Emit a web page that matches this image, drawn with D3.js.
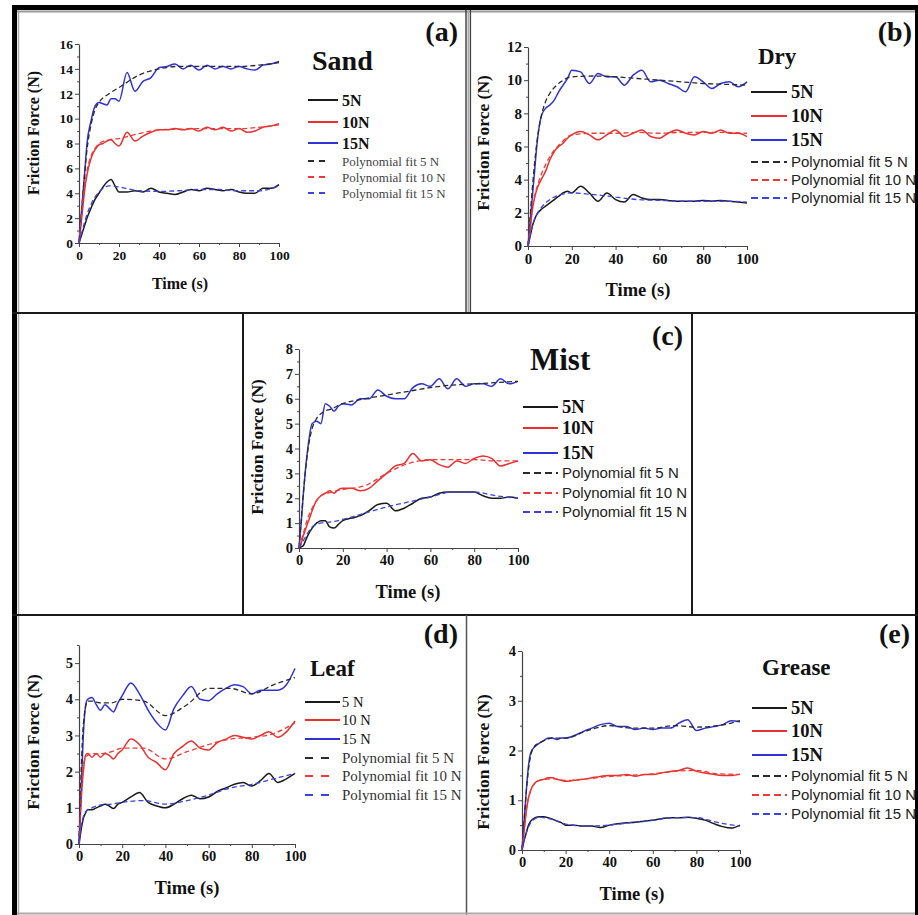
<!DOCTYPE html>
<html>
<head>
<meta charset="utf-8">
<script src="https://cdn.jsdelivr.net/npm/d3@7/dist/d3.min.js"></script>
<style>
  html, body { margin: 0; padding: 0; background: #fff; }
  svg { display: block; }
</style>
</head>
<body>
<div id="chart"></div>
<script>
// friction force vs time, five lubrication conditions

// shared time grids (s)
var rawTime = [0,1,2,3,4,6,8,10,12,14,16,18,20,24,28,32,36,40,44,48,52,56,60,64,68,72,76,80,84,88,92,96,100];
var fitTime = [0,1,2,4,6,8,10,15,20,30,40,50,60,70,80,90,100];

var seriesNames = ['5N', '10N', '15N'];
var fitNames = ['Polynomial fit 5 N', 'Polynomial fit 10 N', 'Polynomial fit 15 N'];

// (a) Sand
var sand5  = [0,0.5,1.0,1.5,2.0,2.8,3.5,4.0,4.5,4.9,5.1,4.6,4.1,4.1,4.2,4.1,4.4,4.1,4.0,3.9,4.1,4.3,4.2,4.4,4.3,4.2,4.3,4.1,4.0,4.0,4.4,4.4,4.7];
var sand10 = [0,1.5,3,4.5,5.5,6.8,7.5,7.9,8.0,8.2,8.3,8.0,7.8,8.9,8.2,8.6,8.9,9.1,9.1,9.2,9.1,9.2,9.0,9.3,9.1,9.3,9.0,9.2,8.9,9.0,9.3,9.4,9.6];
var sand15 = [0,2,4,6,8,9.8,11.0,11.3,11.2,11.1,11.6,11.6,11.4,13.7,12.2,13.0,13.3,14.1,14.2,14.4,14.0,14.3,13.9,14.3,14.0,14.2,14.0,14.2,14.0,13.9,14.3,14.4,14.6];
var sandFit5  = [0,0.6,1.2,2.3,3.1,3.7,4.1,4.6,4.5,4.2,4.15,4.2,4.3,4.3,4.2,4.2,4.6];
var sandFit10 = [0,1.8,3.5,5.8,7.0,7.6,8.0,8.3,8.4,8.8,9.1,9.15,9.2,9.2,9.2,9.3,9.5];
var sandFit15 = [0,2,4,7.5,9.5,10.7,11.3,12.0,12.5,13.5,14.0,14.2,14.2,14.2,14.2,14.3,14.5];

// (b) Dry
var dry5  = [0,0.6,1.2,1.6,1.9,2.2,2.4,2.6,2.8,3.0,3.2,3.3,3.2,3.6,3.2,2.7,3.2,2.8,2.65,3.1,2.9,2.8,2.8,2.75,2.7,2.7,2.7,2.75,2.7,2.75,2.7,2.65,2.6];
var dry10 = [0,1,2.2,2.9,3.4,4.0,4.5,5.2,5.7,6.0,6.2,6.5,6.7,6.9,6.7,6.4,6.7,7.0,6.6,6.8,7.0,6.6,6.5,6.8,7.0,6.8,6.7,6.9,6.8,7.0,6.8,6.8,6.6];
var dry15 = [0,1.5,3,4.5,6,7.8,8.3,8.5,8.8,9.3,9.7,10.1,10.6,10.5,9.8,10.4,10.2,10.2,9.7,10.3,10.6,9.9,10.0,9.8,9.6,9.3,10.2,9.9,9.5,9.8,9.9,9.6,9.9];
var dryFit5  = [0,0.6,1.2,1.9,2.3,2.6,2.8,3.1,3.2,3.1,2.95,2.8,2.75,2.7,2.7,2.7,2.65];
var dryFit10 = [0,1.2,2.3,3.5,4.3,4.9,5.4,6.2,6.7,6.8,6.8,6.85,6.8,6.85,6.85,6.85,6.8];
var dryFit15 = [0,1.8,3.5,6.2,7.8,8.7,9.2,9.9,10.2,10.25,10.2,10.1,10.0,9.9,9.8,9.75,9.7];

// (c) Mist
var mist5  = [0,0.05,0.1,0.3,0.5,0.8,1.0,1.1,1.1,0.85,0.8,0.95,1.1,1.2,1.3,1.5,1.75,1.8,1.5,1.6,1.8,2.0,2.05,2.2,2.25,2.25,2.25,2.25,2.1,2.0,2.0,2.05,2.0];
var mist10 = [0,0.2,0.5,0.75,1.0,1.5,1.9,2.1,2.2,2.3,2.2,2.35,2.4,2.4,2.3,2.4,2.7,3.0,3.3,3.4,3.8,3.5,3.55,3.35,3.25,3.5,3.4,3.6,3.7,3.6,3.3,3.4,3.5];
var mist15 = [0,1.0,2.2,3.2,4.0,5.0,5.1,5.0,5.8,5.7,5.5,5.7,5.8,5.75,6.0,6.0,6.35,6.1,6.0,6.0,6.45,6.6,6.5,6.8,6.4,6.8,6.5,6.6,6.6,6.5,6.8,6.6,6.7];
var mistFit5  = [0,0.15,0.3,0.6,0.85,0.95,1.0,1.05,1.15,1.4,1.65,1.85,2.05,2.25,2.25,2.1,2.0];
var mistFit10 = [0,0.3,0.6,1.2,1.6,1.9,2.1,2.25,2.35,2.5,3.0,3.4,3.55,3.55,3.55,3.5,3.5];
var mistFit15 = [0,1.1,2.2,3.9,4.8,5.2,5.4,5.6,5.8,6.0,6.15,6.3,6.45,6.55,6.6,6.65,6.7];

// (d) Leaf
var leaf5  = [0,0.4,0.7,0.85,0.95,0.95,1.0,1.05,1.1,1.05,0.98,1.1,1.15,1.3,1.42,1.15,1.05,1.0,1.1,1.25,1.35,1.25,1.3,1.45,1.55,1.65,1.7,1.6,1.75,1.95,1.7,1.8,1.95];
var leaf10 = [0,1.2,2.0,2.45,2.5,2.4,2.5,2.4,2.5,2.45,2.35,2.5,2.6,2.9,2.75,2.4,2.25,2.05,2.5,2.7,2.85,2.65,2.6,2.8,2.9,3.0,2.95,2.9,3.0,3.1,2.95,3.1,3.4];
var leaf15 = [0,1.5,3.0,3.8,4.0,4.05,3.85,3.7,3.85,3.75,3.65,3.9,4.1,4.45,4.15,3.7,3.35,3.15,3.75,4.1,4.35,4.0,3.96,4.15,4.3,4.4,4.35,4.15,4.25,4.25,4.25,4.4,4.85];
var leafFit5  = [0,0.5,0.75,0.95,1.0,1.05,1.08,1.1,1.15,1.2,1.1,1.2,1.35,1.55,1.65,1.8,1.95];
var leafFit10 = [0,1.3,2.2,2.45,2.5,2.5,2.5,2.55,2.65,2.65,2.35,2.55,2.75,2.9,2.95,3.05,3.35];
var leafFit15 = [0,2.0,3.3,3.95,3.95,3.92,3.9,3.9,4.0,3.95,3.55,3.85,4.3,4.3,4.15,4.4,4.6];

// (e) Grease
var grease5  = [0,0.2,0.35,0.5,0.58,0.65,0.67,0.67,0.65,0.62,0.58,0.55,0.5,0.5,0.48,0.48,0.45,0.5,0.53,0.55,0.56,0.58,0.6,0.63,0.65,0.65,0.66,0.64,0.6,0.53,0.47,0.44,0.5];
var grease10 = [0,0.4,0.8,1.05,1.2,1.35,1.4,1.42,1.45,1.45,1.42,1.4,1.38,1.4,1.42,1.45,1.48,1.5,1.5,1.52,1.48,1.52,1.52,1.55,1.58,1.6,1.65,1.58,1.55,1.52,1.5,1.5,1.52];
var grease15 = [0,0.6,1.2,1.7,1.95,2.08,2.15,2.2,2.25,2.25,2.22,2.25,2.25,2.3,2.38,2.45,2.52,2.55,2.48,2.48,2.42,2.45,2.42,2.45,2.45,2.55,2.62,2.4,2.45,2.48,2.52,2.6,2.58];
var greaseFit5  = [0,0.2,0.35,0.55,0.63,0.66,0.65,0.6,0.52,0.48,0.5,0.55,0.6,0.65,0.65,0.55,0.48];
var greaseFit10 = [0,0.4,0.8,1.2,1.35,1.4,1.42,1.43,1.4,1.43,1.48,1.5,1.53,1.58,1.6,1.53,1.52];
var greaseFit15 = [0,0.6,1.2,1.9,2.1,2.15,2.2,2.25,2.25,2.4,2.5,2.45,2.45,2.5,2.47,2.5,2.6];

var xTicks = [0, 20, 40, 60, 80, 100];
var yTicksSand = [0,2,4,6,8,10,12,14,16];
var yTicksDry = [0,2,4,6,8,10,12];
var yTicksMist = [0,1,2,3,4,5,6,7,8];
var yTicksLeaf = [0,1,2,3,4,5];
var yTicksGrease = [0,1,2,3,4];

var lineColors = ['#1a1a1a', '#e8302e', '#2f33d6'];
// the fits are drawn in the legend's colours: 5 N fit in black, 15 N fit in blue
var fitColors = { fit5: '#2a2a2a', fit10: '#ee3a36', fit15: '#3a44e0' };

var serif = '"Liberation Serif", "Times New Roman", serif';
var sans = '"Liberation Sans", Arial, sans-serif';

var W = 918, H = 915;
var svg = d3.select('#chart').append('svg')
    .attr('width', W).attr('height', H);
svg.append('rect').attr('width', W).attr('height', H).attr('fill', '#fff');

// ---- panel frames ----
var frame = svg.append('g');
frame.append('rect').attr('x', 12).attr('y', 5).attr('width', 5).attr('height', H - 5).attr('fill', '#000');
frame.append('rect').attr('x', 12).attr('y', 5).attr('width', W - 12).attr('height', 5).attr('fill', '#000');
frame.append('rect').attr('x', 915).attr('y', 5).attr('width', 3).attr('height', H - 5).attr('fill', '#000');
frame.append('line').attr('x1', 17).attr('x2', 915).attr('y1', 11.5).attr('y2', 11.5).attr('stroke', '#999').attr('stroke-width', 2);
frame.append('line').attr('x1', 18.5).attr('x2', 18.5).attr('y1', 10).attr('y2', H).attr('stroke', '#aaa').attr('stroke-width', 1.5);
// top row divider
frame.append('line').attr('x1', 466).attr('x2', 466).attr('y1', 10).attr('y2', 313).attr('stroke', '#444').attr('stroke-width', 1.5);
frame.append('line').attr('x1', 468.5).attr('x2', 468.5).attr('y1', 10).attr('y2', 313).attr('stroke', '#aaa').attr('stroke-width', 2);
frame.append('line').attr('x1', 470.5).attr('x2', 470.5).attr('y1', 10).attr('y2', 313).attr('stroke', '#444').attr('stroke-width', 1.2);
frame.append('line').attr('x1', 12).attr('x2', W).attr('y1', 313).attr('y2', 313).attr('stroke', '#1a1a1a').attr('stroke-width', 2);
// middle panel box
frame.append('line').attr('x1', 243).attr('x2', 243).attr('y1', 313).attr('y2', 615).attr('stroke', '#1a1a1a').attr('stroke-width', 2);
frame.append('line').attr('x1', 692).attr('x2', 692).attr('y1', 313).attr('y2', 615).attr('stroke', '#1a1a1a').attr('stroke-width', 2);
frame.append('line').attr('x1', 12).attr('x2', W).attr('y1', 615).attr('y2', 615).attr('stroke', '#1a1a1a').attr('stroke-width', 2);
// bottom row divider
frame.append('line').attr('x1', 466.5).attr('x2', 466.5).attr('y1', 615).attr('y2', H).attr('stroke', '#555').attr('stroke-width', 1.5);
frame.append('line').attr('x1', 17).attr('x2', 915).attr('y1', 913.5).attr('y2', 913.5).attr('stroke', '#aaa').attr('stroke-width', 2);

// ---- panels ----
var panels = [
  { tag: '(a)', title: 'Sand', ticks: yTicksSand, yMax: 16, raw: [sand5, sand10, sand15],
    fits: [sandFit15, sandFit10, sandFit5],
    plot: { x0: 79, x1: 279, y0: 243, y1: 44 }, tickFont: 13.5, axisFont: 16, xTitleFont: 16,
    yLabel: [33, 133], xLabel: [180, 289],
    tagPos: [458, 41, 28], titlePos: [312, 70, 28],
    leg: { x0: 308, x1: 338, xd1: 330, tx: 342, ys: [100, 122, 143], fy: [161, 177, 193],
           font: 16, bold: true, fitFont: 13, fitFamily: serif, fitColor: '#444', dash: '6,5' } },
  { tag: '(b)', title: 'Dry', ticks: yTicksDry, yMax: 12, raw: [dry5, dry10, dry15],
    fits: [dryFit15, dryFit10, dryFit5],
    plot: { x0: 528, x1: 747, y0: 246, y1: 47 }, tickFont: 15, axisFont: 17.5, xTitleFont: 18.5,
    yLabel: [483, 143], xLabel: [638, 296],
    tagPos: [912, 41, 28], titlePos: [758, 64, 23],
    leg: { x0: 751, x1: 787, xd1: 787, tx: 791, ys: [92, 116, 140], fy: [162, 180, 198],
           font: 18.5, bold: true, fitFont: 15, fitFamily: sans, fitColor: '#222', dash: '7,4' } },
  { tag: '(c)', title: 'Mist', ticks: yTicksMist, yMax: 8, raw: [mist5, mist10, mist15],
    fits: [mistFit15, mistFit10, mistFit5],
    plot: { x0: 299, x1: 518, y0: 548, y1: 349 }, tickFont: 14.5, axisFont: 17.5, xTitleFont: 18.5,
    yLabel: [257, 447], xLabel: [408, 598],
    tagPos: [683, 345, 28], titlePos: [530, 370, 31],
    leg: { x0: 523, x1: 558, xd1: 558, tx: 562, ys: [407, 428, 453], fy: [473, 493, 512],
           font: 18.5, bold: true, fitFont: 15, fitFamily: sans, fitColor: '#222', dash: '7,4' } },
  { tag: '(d)', title: 'Leaf', ticks: yTicksLeaf, yMax: 5.5, raw: [leaf5, leaf10, leaf15],
    fits: [leafFit15, leafFit10, leafFit5],
    plot: { x0: 79, x1: 295, y0: 844, y1: 645 }, tickFont: 14.5, axisFont: 17.5, xTitleFont: 18.5,
    yLabel: [33, 742], xLabel: [187, 894],
    tagPos: [458, 643, 28], titlePos: [310, 676, 23],
    leg: { x0: 305, x1: 340, xd1: 330, tx: 342, ys: [702, 720, 739], fy: [758, 776, 795],
           font: 14.5, bold: false, names: ['5 N', '10 N', '15 N'], fitFont: 15, fitFamily: serif, fitColor: '#333', dash: '8,8' } },
  { tag: '(e)', title: 'Grease', ticks: yTicksGrease, yMax: 4, raw: [grease5, grease10, grease15],
    fits: [greaseFit15, greaseFit10, greaseFit5],
    plot: { x0: 522, x1: 740, y0: 850, y1: 651 }, tickFont: 14.5, axisFont: 17.5, xTitleFont: 18.5,
    yLabel: [483, 762], xLabel: [632, 900],
    tagPos: [910, 643, 28], titlePos: [762, 675, 23],
    leg: { x0: 752, x1: 787, xd1: 787, tx: 791, ys: [708, 731, 755], fy: [776, 795, 814],
           font: 18.5, bold: true, fitFont: 15, fitFamily: sans, fitColor: '#222', dash: '7,4' } }
];

var fitColorList = [fitColors.fit5, fitColors.fit10, fitColors.fit15];

panels.forEach(function(p) {
    var g = svg.append('g');
    var x = d3.scaleLinear().domain([0, 100]).range([p.plot.x0, p.plot.x1]);
    var y = d3.scaleLinear().domain([0, p.yMax]).range([p.plot.y0, p.plot.y1]);

    // minor ticks
    var step = p.ticks[1] - p.ticks[0];
    var yMinor = d3.range(step / 2, p.yMax + 0.001, step).filter(function(v) {
        return p.ticks.indexOf(v) < 0;
    });
    var xMinor = [10, 30, 50, 70, 90];

    g.append('g')
        .attr('transform', 'translate(' + p.plot.x0 + ',0)')
        .call(d3.axisLeft(y).tickValues(p.ticks).tickFormat(d3.format('d'))
            .tickSize(4).tickSizeOuter(0).tickPadding(2));
    g.append('g')
        .attr('transform', 'translate(' + p.plot.x0 + ',0)')
        .call(d3.axisLeft(y).tickValues(yMinor).tickSize(2).tickSizeOuter(0).tickFormat(''))
        .select('.domain').remove();
    g.append('g')
        .attr('transform', 'translate(0,' + p.plot.y0 + ')')
        .call(d3.axisBottom(x).tickValues(xTicks).tickFormat(d3.format('d'))
            .tickSize(4).tickSizeOuter(0).tickPadding(3));
    g.append('g')
        .attr('transform', 'translate(0,' + p.plot.y0 + ')')
        .call(d3.axisBottom(x).tickValues(xMinor).tickSize(2).tickSizeOuter(0).tickFormat(''))
        .select('.domain').remove();

    g.selectAll('.domain').attr('stroke', '#444').attr('stroke-width', 1.2);
    g.selectAll('.tick line').attr('stroke', '#444').attr('stroke-width', 1);
    g.selectAll('.tick text')
        .attr('font-family', serif).attr('font-weight', 'bold')
        .attr('font-size', p.tickFont + 'px').attr('fill', '#111');

    // axis titles
    g.append('text')
        .attr('transform', 'translate(' + p.yLabel[0] + ',' + p.yLabel[1] + ') rotate(-90)')
        .attr('text-anchor', 'middle').attr('dy', '0.35em')
        .attr('font-family', serif).attr('font-weight', 'bold')
        .attr('font-size', p.axisFont + 'px').attr('fill', '#111')
        .text('Friction Force (N)');
    g.append('text')
        .attr('x', p.xLabel[0]).attr('y', p.xLabel[1])
        .attr('text-anchor', 'middle')
        .attr('font-family', serif).attr('font-weight', 'bold')
        .attr('font-size', p.xTitleFont + 'px').attr('fill', '#111')
        .text('Time (s)');

    // raw curves
    var rawLine = d3.line()
        .x(function(d) { return x(d[0]); })
        .y(function(d) { return y(d[1]); })
        .curve(d3.curveMonotoneX);
    p.raw.forEach(function(vals, i) {
        g.append('path')
            .datum(rawTime.map(function(t, k) { return [t, vals[k]]; }))
            .attr('d', rawLine)
            .attr('fill', 'none')
            .attr('stroke', lineColors[i])
            .attr('stroke-width', 1.5);
    });
    // polynomial fits (dashed)
    p.fits.forEach(function(vals, i) {
        g.append('path')
            .datum(fitTime.map(function(t, k) { return [t, vals[k]]; }))
            .attr('d', rawLine)
            .attr('fill', 'none')
            .attr('stroke', fitColorList[i])
            .attr('stroke-width', 1.3)
            .attr('stroke-dasharray', '5,3');
    });

    // panel tag and title
    g.append('text')
        .attr('x', p.tagPos[0]).attr('y', p.tagPos[1])
        .attr('text-anchor', 'end')
        .attr('font-family', serif).attr('font-weight', 'bold')
        .attr('font-size', p.tagPos[2] + 'px').attr('fill', '#111')
        .text(p.tag);
    g.append('text')
        .attr('x', p.titlePos[0]).attr('y', p.titlePos[1])
        .attr('font-family', serif).attr('font-weight', 'bold')
        .attr('font-size', p.titlePos[2] + 'px').attr('fill', '#111')
        .text(p.title);

    // legend
    var L = p.leg;
    var names = L.names || seriesNames;
    names.forEach(function(name, i) {
        g.append('line')
            .attr('x1', L.x0).attr('x2', L.x1)
            .attr('y1', L.ys[i]).attr('y2', L.ys[i])
            .attr('stroke', lineColors[i]).attr('stroke-width', 2);
        g.append('text')
            .attr('x', L.tx).attr('y', L.ys[i]).attr('dy', '0.35em')
            .attr('font-family', serif)
            .attr('font-weight', L.bold ? 'bold' : 'normal')
            .attr('font-size', L.font + 'px').attr('fill', '#111')
            .text(name);
    });
    fitNames.forEach(function(name, i) {
        g.append('line')
            .attr('x1', L.x0).attr('x2', L.xd1)
            .attr('y1', L.fy[i]).attr('y2', L.fy[i])
            .attr('stroke', fitColorList[i]).attr('stroke-width', 2)
            .attr('stroke-dasharray', L.dash);
        g.append('text')
            .attr('x', L.tx).attr('y', L.fy[i]).attr('dy', '0.35em')
            .attr('font-family', L.fitFamily)
            .attr('font-size', L.fitFont + 'px').attr('fill', L.fitColor)
            .text(name);
    });
});
</script>
</body>
</html>
